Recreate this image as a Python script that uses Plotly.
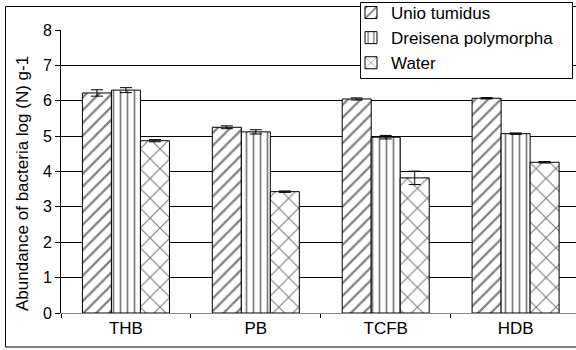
import plotly.graph_objects as go

categories = ["THB", "PB", "TCFB", "HDB"]
series_names = ["Unio tumidus", "Dreisena polymorpha", "Water"]
unio = [6.22, 5.25, 6.05, 6.07]
dreisena = [6.30, 5.12, 4.97, 5.07]
water = [4.87, 3.43, 3.82, 4.26]
unio_err = [0.09, 0.04, 0.03, 0.02]
dreisena_err = [0.07, 0.06, 0.05, 0.02]
water_err = [0.03, 0.02, 0.19, 0.02]
y_ticks = [0, 1, 2, 3, 4, 5, 6, 7, 8]
y_title = "Abundance of bacteria log (N) g-1"

values = [unio, dreisena, water]
errors = [unio_err, dreisena_err, water_err]
patterns = [
    dict(shape="/", size=9, solidity=0.25, fgcolor="black", bgcolor="white"),
    dict(shape="|", size=7, solidity=0.25, fgcolor="black", bgcolor="white"),
    dict(shape="x", size=14, solidity=0.16, fgcolor="black", bgcolor="white"),
]

FONT = "Liberation Sans, Arial, sans-serif"
L, R, T, B = 61, 0, 30, 37
W, H = 576, 350
PW, PH = W - L - R, H - T - B


def px_x(p):
    return (p - L) / PW


def px_y(p):
    return (H - B - p) / PH


fig = go.Figure()
for name, vals, errs, pat in zip(series_names, values, errors, patterns):
    fig.add_trace(go.Bar(
        x=categories, y=vals, name=name,
        marker=dict(color="white", pattern=pat, line=dict(color="black", width=1)),
        error_y=dict(type="data", array=errs, visible=True, color="black", thickness=1, width=6),
    ))

fig.update_layout(
    width=W, height=H,
    margin=dict(l=L, r=R, t=T, b=B, autoexpand=False),
    paper_bgcolor="white", plot_bgcolor="white",
    barmode="group", bargap=0.33, bargroupgap=0,
    font=dict(family=FONT, color="black"),
    legend=dict(
        x=px_x(351), y=px_y(-5), xanchor="left", yanchor="top",
        bgcolor="rgba(0,0,0,0)", borderwidth=0,
        font=dict(size=17, family=FONT, color="black"),
        tracegroupgap=0, itemwidth=30,
    ),
    xaxis=dict(
        type="category", range=[-0.5, 3.465], automargin=False,
        showline=True, linecolor="#888888", linewidth=1,
        ticks="outside", tickson="boundaries", ticklen=4, tickcolor="black",
        tickfont=dict(size=17, family=FONT), showgrid=False,
    ),
    yaxis=dict(
        range=[0, 8], tickvals=y_ticks, ticktext=[str(v) for v in y_ticks],
        automargin=False,
        showline=True, linecolor="black", linewidth=1,
        ticks="outside", ticklen=5, tickcolor="black",
        showgrid=True, gridcolor="black", gridwidth=1, zeroline=False,
        tickfont=dict(size=16, family=FONT),
    ),
    annotations=[dict(
        text=y_title, textangle=-90, showarrow=False,
        xref="paper", yref="paper", x=px_x(22), y=px_y(184),
        xanchor="center", yanchor="middle",
        font=dict(size=17, family=FONT, color="black"),
    )],
    shapes=[
        dict(type="rect", xref="paper", yref="paper",
             x0=px_x(5.5), x1=px_x(590), y0=px_y(347), y1=px_y(6.5),
             line=dict(color="black", width=1), fillcolor="rgba(0,0,0,0)", layer="below"),
        dict(type="rect", xref="paper", yref="paper",
             x0=px_x(360.5), x1=px_x(572.5), y0=px_y(78.5), y1=px_y(2.5),
             line=dict(color="black", width=1), fillcolor="white", layer="above"),
    ],
)

fig.write_html(
    "out.html",
    config={"displayModeBar": False},
    post_script="document.body.style.margin='0px';document.body.style.overflow='hidden';",
)
